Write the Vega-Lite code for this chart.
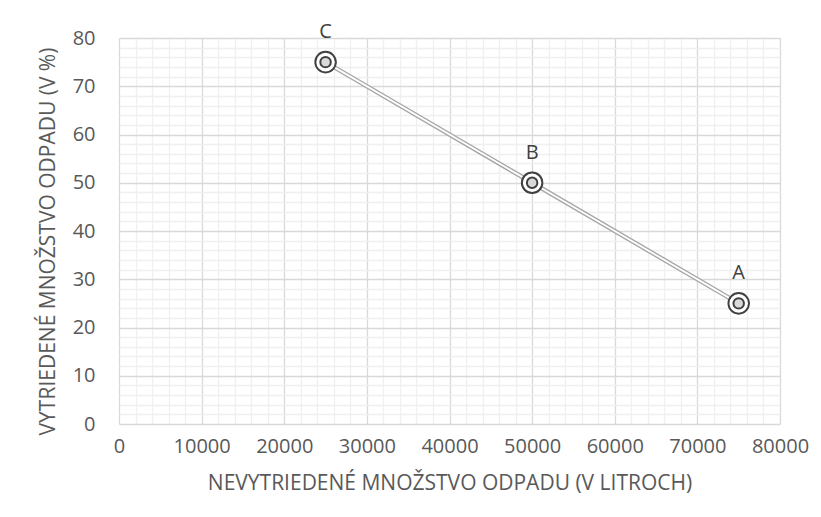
{
  "$schema": "https://vega.github.io/schema/vega-lite/v6.json",
  "width": 661,
  "height": 386,
  "autosize": "none",
  "padding": {"left": 119, "top": 38, "right": 41, "bottom": 93},
  "background": "white",
  "config": {
    "font": "Open Sans",
    "view": {"stroke": null},
    "axis": {
      "labelFont": "Open Sans",
      "titleFont": "Open Sans",
      "labelColor": "#595959",
      "titleColor": "#595959",
      "labelFontSize": 20,
      "titleFontSize": 21,
      "titleFontWeight": "normal",
      "domain": false,
      "ticks": false,
      "labelOverlap": false,
      "labelFlush": false,
      "gridWidth": 1.3
    }
  },
  "data": {
    "values": [
      {"x": 25000, "y": 75, "label": "C"},
      {"x": 50000, "y": 50, "label": "B"},
      {"x": 75000, "y": 25, "label": "A"}
    ]
  },
  "encoding": {
    "x": {
      "field": "x",
      "type": "quantitative",
      "scale": {"domain": [0, 80000], "nice": false, "zero": true},
      "axis": {
        "title": "NEVYTRIEDENÉ MNOŽSTVO ODPADU (V LITROCH)",
        "values": [0,2000,4000,6000,8000,10000,12000,14000,16000,18000,20000,22000,24000,26000,28000,30000,32000,34000,36000,38000,40000,42000,44000,46000,48000,50000,52000,54000,56000,58000,60000,62000,64000,66000,68000,70000,72000,74000,76000,78000,80000],
        "format": "d",
        "labelExpr": "datum.value % 10000 === 0 ? datum.label : ''",
        "gridColor": {"condition": {"test": "datum.value % 10000 === 0", "value": "#d9d9d9"}, "value": "#f0f0f0"},
        "labelPadding": 12,
        "titlePadding": 16
      }
    },
    "y": {
      "field": "y",
      "type": "quantitative",
      "scale": {"domain": [0, 80], "nice": false},
      "axis": {
        "title": "VYTRIEDENÉ MNOŽSTVO ODPADU (V %)",
        "values": [0,2,4,6,8,10,12,14,16,18,20,22,24,26,28,30,32,34,36,38,40,42,44,46,48,50,52,54,56,58,60,62,64,66,68,70,72,74,76,78,80],
        "labelExpr": "datum.value % 10 === 0 ? datum.label : ''",
        "gridColor": {"condition": {"test": "datum.value % 10 === 0", "value": "#d9d9d9"}, "value": "#f0f0f0"},
        "labelPadding": 24,
        "titlePadding": 14,
        "titleY": 203
      }
    }
  },
  "layer": [
    {"mark": {"type": "line", "color": "#a6a6a6", "strokeWidth": 4.5}},
    {"mark": {"type": "line", "color": "#ffffff", "strokeWidth": 1.8}},
    {"mark": {"type": "point", "shape": "circle", "size": 420, "filled": false, "stroke": "#404040", "strokeWidth": 2, "fill": "white", "fillOpacity": 1, "opacity": 1}},
    {"mark": {"type": "point", "shape": "circle", "size": 110, "filled": false, "stroke": "#404040", "strokeWidth": 2, "fill": "#d9d9d9", "fillOpacity": 1, "opacity": 1}},
    {"mark": {"type": "text", "dy": -30, "fontSize": 20, "color": "#404040", "font": "Open Sans"}, "encoding": {"text": {"field": "label"}}}
  ]
}
